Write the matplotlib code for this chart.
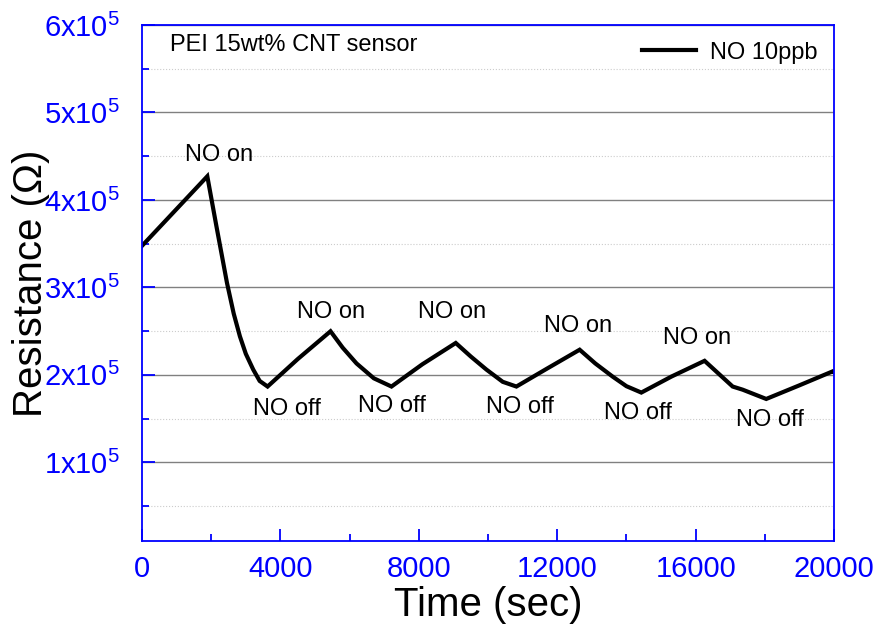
import matplotlib.pyplot as plt

plt.rcParams['font.family'] = ['Liberation Sans', 'DejaVu Sans']
plt.rcParams['mathtext.fontset'] = 'custom'
plt.rcParams['mathtext.rm'] = 'Liberation Sans'

# curve: time (sec), resistance (ohm)
tempo = [0, 1887, 2150, 2456, 2650, 2829, 3000, 3214, 3400, 3629,
         4500, 5448, 5800, 6200, 6700, 7210,
         8100, 9067, 9500, 9953, 10425, 10820,
         11700, 12648, 13100, 13600, 14000, 14430,
         15300, 16258, 16700, 17070, 17360, 18040,
         19000, 19963, 20000]
resistencia = [3.475e5, 4.27e5, 3.70e5, 3.05e5, 2.70e5, 2.44e5, 2.24e5, 2.06e5, 1.93e5, 1.866e5,
               2.18e5, 2.498e5, 2.31e5, 2.13e5, 1.96e5, 1.866e5,
               2.12e5, 2.364e5, 2.21e5, 2.06e5, 1.92e5, 1.866e5,
               2.07e5, 2.287e5, 2.13e5, 1.98e5, 1.87e5, 1.797e5,
               1.98e5, 2.16e5, 2.00e5, 1.866e5, 1.83e5, 1.724e5,
               1.88e5, 2.04e5, 2.03e5]

# annotations (label centres)
on_t = [2224, 5458, 8952, 12590, 16055]
on_r = [4.517e5, 2.713e5, 2.713e5, 2.563e5, 2.425e5]
off_t = [4187, 7219, 10915, 14323, 18135]
off_r = [1.609e5, 1.644e5, 1.632e5, 1.563e5, 1.483e5]

xticks = [0, 4000, 8000, 12000, 16000, 20000]
yticks = [1e5, 2e5, 3e5, 4e5, 5e5, 6e5]
ylabels = [r'$\mathregular{%dx10^5}$' % i for i in range(1, 7)]

azul = '#0000ff'

fig = plt.figure(figsize=(8.81, 6.3), dpi=100)
ax = fig.add_axes([0.1612, 0.1413, 0.7855, 0.819])

ax.plot(tempo, resistencia, color='black', lw=3, label='NO 10ppb', solid_joinstyle='miter')

for t, r in zip(on_t, on_r):
    ax.text(t, r, 'NO on', fontsize=17, ha='center', va='center')
for t, r in zip(off_t, off_r):
    ax.text(t, r, 'NO off', fontsize=17, ha='center', va='center')

ax.text(0.04, 0.961, 'PEI 15wt% CNT sensor', transform=ax.transAxes,
        fontsize=17, ha='left', va='center')

ax.set_xlim(0, 20000)
ax.set_ylim(1e4, 6e5)
ax.set_xticks(xticks)
ax.set_xticks([2000, 6000, 10000, 14000, 18000], minor=True)
ax.set_yticks(yticks)
ax.set_yticklabels(ylabels)
ax.set_yticks([0.5e5, 1.5e5, 2.5e5, 3.5e5, 4.5e5, 5.5e5], minor=True)

ax.grid(axis='y', which='major', color='#808080', lw=1)
ax.grid(axis='y', which='minor', color='#cccccc', lw=0.8, ls=':')
ax.set_axisbelow(True)

for s in ax.spines.values():
    s.set_color(azul)
    s.set_linewidth(1.3)

ax.tick_params(which='both', direction='in', color=azul, width=1.3,
               top=False, right=False, labelcolor=azul, labelsize=21)
ax.tick_params(which='major', length=9)
ax.tick_params(which='minor', length=5)
ax.tick_params(axis='y', pad=16)
ax.tick_params(axis='x', pad=10)

ax.set_xlabel('Time (sec)', fontsize=29, labelpad=2)
ax.set_ylabel('Resistance (Ω)', fontsize=29)
ax.yaxis.set_label_coords(-0.133, 0.5)

ax.legend(loc='upper right', frameon=False, fontsize=17, handlelength=2.3,
          handletextpad=0.6, borderaxespad=0.3)

fig.savefig('out.png', dpi=100)
